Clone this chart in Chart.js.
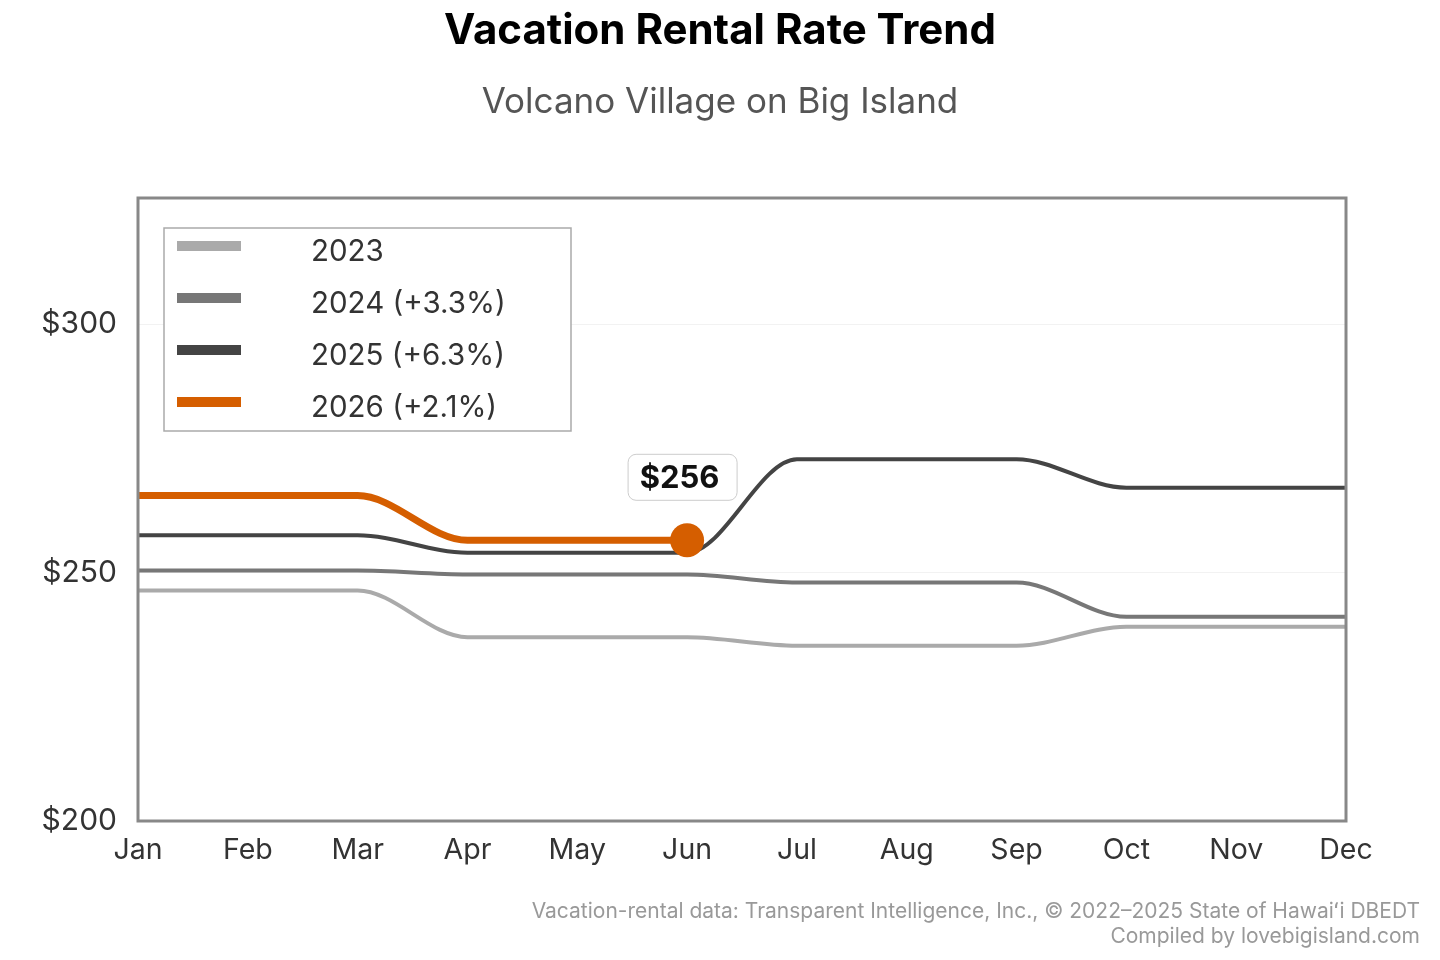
<!DOCTYPE html>
<html>
<head>
<meta charset="utf-8">
<script src="https://cdn.jsdelivr.net/npm/chart.js@4"></script>
<style>
  html, body { margin: 0; padding: 0; background: #fff; }
  #wrap { width: 1440px; height: 960px; position: relative; }
</style>
</head>
<body>
<div id="wrap"><canvas id="rateChart" width="1440" height="960"></canvas></div>
<script>
const months = ["Jan","Feb","Mar","Apr","May","Jun","Jul","Aug","Sep","Oct","Nov","Dec"];
const rates2023 = [246.4, 246.4, 246.4, 237, 237, 237, 235.3, 235.3, 235.3, 239.1, 239.1, 239.1];
const rates2024 = [250.4, 250.4, 250.4, 249.6, 249.6, 249.6, 248, 248, 248, 241.1, 241.1, 241.1];
const rates2025 = [257.5, 257.5, 257.5, 254, 254, 254, 272.8, 272.8, 272.8, 267.1, 267.1, 267.1];
const rates2026 = [265.5, 265.5, 265.5, 256.5, 256.5, 256.5, null, null, null, null, null, null];
const seriesLabels = ["2023", "2024 (+3.3%)", "2025 (+6.3%)", "2026 (+2.1%)"];
const yTicks = [200, 250, 300];
const latestLabel = "$256";

const FONT = "Inter, 'Noto Sans', sans-serif";

function lastIndex(arr) {
  let i = arr.length - 1;
  while (i >= 0 && arr[i] == null) i--;
  return i;
}

const decorPlugin = {
  id: 'decor',
  afterDraw(chart) {
    const c = chart.ctx;
    const a = chart.chartArea;
    c.save();
    // titles
    c.textAlign = 'center';
    c.textBaseline = 'middle';
    c.fillStyle = '#000';
    c.font = "bold 42px " + FONT;
    c.fillText("Vacation Rental Rate Trend", 720, 31);
    c.fillStyle = '#555';
    c.font = "35px " + FONT;
    c.fillText("Volcano Village on Big Island", 720, 102);

    // plot frame
    c.strokeStyle = '#888';
    c.lineWidth = 3;
    c.strokeRect(a.left, a.top, a.right - a.left, a.bottom - a.top);

    // legend box
    c.fillStyle = '#fff';
    c.fillRect(164, 228, 407, 203);
    c.strokeStyle = '#aaa';
    c.lineWidth = 1.5;
    c.strokeRect(164, 228, 407, 203);
    chart.data.datasets.forEach((ds, i) => {
      const y = 246 + i * 52;
      c.strokeStyle = ds.borderColor;
      c.lineWidth = 10;
      c.beginPath();
      c.moveTo(177, y);
      c.lineTo(241, y);
      c.stroke();
      c.fillStyle = '#333';
      c.font = "29.5px " + FONT;
      c.textAlign = 'left';
      c.textBaseline = 'middle';
      c.fillText(ds.label, 311, y + 6);
    });

    // latest value callout
    const meta = chart.getDatasetMeta(3);
    const idx = lastIndex(rates2026);
    const pt = meta.data[idx];
    if (pt) {
      const bx = pt.x - 59, by = pt.y - 86, bw = 109, bh = 46;
      c.fillStyle = '#fff';
      c.strokeStyle = '#ccc';
      c.lineWidth = 1;
      c.beginPath();
      c.roundRect(bx, by, bw, bh, 8);
      c.fill();
      c.stroke();
      c.fillStyle = '#111';
      c.font = "bold 31px " + FONT;
      c.textAlign = 'center';
      c.textBaseline = 'middle';
      c.fillText(latestLabel, bx + bw / 2 - 3, by + bh / 2 + 1);
    }

    // footnote
    c.fillStyle = '#999';
    c.font = "21px " + FONT;
    c.textAlign = 'right';
    c.textBaseline = 'middle';
    c.fillText("Vacation-rental data: Transparent Intelligence, Inc., \u00a9 2022\u20132025 State of Hawai\u02bbi DBEDT", 1420, 912);
    c.fillText("Compiled by lovebigisland.com", 1420, 937);
    c.restore();
  }
};

const ctx = document.getElementById('rateChart');
const idx26 = lastIndex(rates2026);

new Chart(ctx, {
  type: 'line',
  data: {
    labels: months,
    datasets: [
      { label: seriesLabels[0], data: rates2023, borderColor: '#aaaaaa', borderWidth: 4, order: 4 },
      { label: seriesLabels[1], data: rates2024, borderColor: '#777777', borderWidth: 4, order: 3 },
      { label: seriesLabels[2], data: rates2025, borderColor: '#444444', borderWidth: 4, order: 2 },
      {
        label: seriesLabels[3], data: rates2026, borderColor: '#d55e00', borderWidth: 7, order: 1,
        pointRadius: rates2026.map((v, i) => i === idx26 ? 17 : 0),
        pointBackgroundColor: '#d55e00', pointBorderWidth: 0
      }
    ]
  },
  options: {
    responsive: false,
    animation: false,
    devicePixelRatio: 1,
    layout: { padding: { top: 198, right: 94, bottom: 0, left: 0 } },
    elements: {
      line: { cubicInterpolationMode: 'monotone', fill: false },
      point: { radius: 0, hoverRadius: 0 }
    },
    plugins: {
      legend: { display: false },
      title: { display: false },
      tooltip: { enabled: false }
    },
    scales: {
      x: {
        offset: false,
        grid: { display: false, drawTicks: false },
        border: { display: false },
        ticks: { color: '#333', font: { family: FONT, size: 28.5 }, padding: 12, maxRotation: 0, autoSkip: false },
        afterFit(s) { s.height = 139; }
      },
      y: {
        min: 200,
        max: 325.4,
        afterBuildTicks(s) { s.ticks = yTicks.map(v => ({ value: v })); },
        grid: { color: '#f2f2f2', lineWidth: 1, drawTicks: false },
        border: { display: false },
        ticks: {
          color: '#333', font: { family: FONT, size: 30 }, padding: 21,
          callback: v => '$' + v
        },
        afterFit(s) { s.width = 138; }
      }
    }
  },
  plugins: [decorPlugin]
});
</script>
</body>
</html>
